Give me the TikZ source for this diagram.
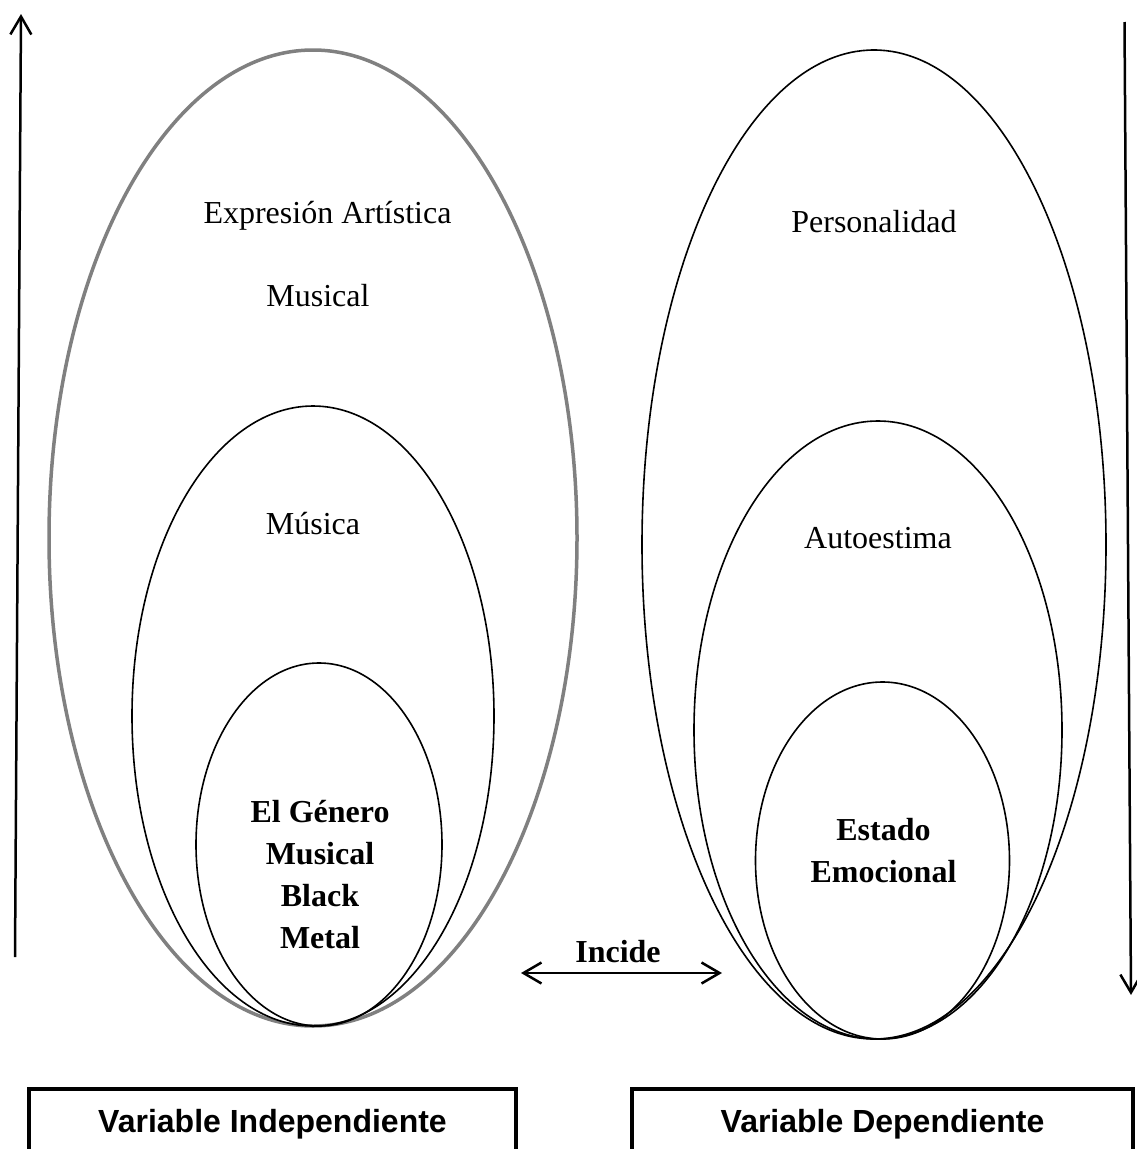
\documentclass[tikz,border=0pt]{standalone}
\usepackage{fontspec}
\setmainfont{Liberation Serif}
\newfontfamily\arialfont{Liberation Sans}
\usetikzlibrary{shapes.geometric,arrows.meta}
\begin{document}
\begin{tikzpicture}[x=1pt,y=-1pt,
  ell/.style={draw,ellipse,inner sep=0pt,line width=1.6pt},
  greyell/.style={ell,draw={rgb,255:red,128;green,128;blue,128},line width=3.5pt},
  lbl/.style={anchor=base,inner sep=0pt,font=\fontsize{32}{42}\selectfont},
  blbl/.style={anchor=base,inner sep=0pt,align=center,font=\fontsize{32}{42}\selectfont\bfseries},
  varbox/.style={draw,line width=4.5pt,minimum width=487pt,minimum height=70pt,inner sep=0pt,
     text height=23pt,text depth=7pt,font=\arialfont\bfseries\fontsize{32}{38}\selectfont},
  tip/.style={-{Straight Barb[length=18pt,width=21pt,line width=2.5pt]},line width=2.5pt},
  dtip/.style={{Straight Barb[length=18pt,width=21pt,line width=2.5pt]}-{Straight Barb[length=18pt,width=21pt,line width=2.5pt]},line width=2.5pt}
]
\useasboundingbox (0,0) rectangle (1137,1149);
\clip (0,0) rectangle (1137,1149);
\fill[white] (0,0) rectangle (1137,1149);

% left ellipses
\node[greyell,minimum width=528pt,minimum height=976pt] (lo) at (313,538) {};
\node[ell,minimum width=362pt,minimum height=620pt] (lm) at (313,716) {};
\node[ell,minimum width=246pt,minimum height=363pt] (li) at (319,844.5) {};

% right ellipses
\node[ell,minimum width=464pt,minimum height=989pt] (ro) at (874,544.5) {};
\node[ell,minimum width=368pt,minimum height=618pt] (rm) at (878,730) {};
\node[ell,minimum width=254pt,minimum height=357pt] (ri) at (882.5,860.5) {};

% labels
\node[lbl] (t1) at (327.5,223) {Expresión Artística};
\node[lbl] (t2) at (318,306) {Musical};
\node[lbl] (t3) at (313,534) {Música};
\node[blbl] (t4) at (320,948) {El Género\\Musical\\Black\\Metal};
\node[lbl] (t5) at (874,232) {Personalidad};
\node[lbl] (t6) at (878,548) {Autoestima};
\node[blbl] (t7) at (883.5,882) {Estado\\Emocional};

% vertical arrows
\coordinate (la0) at (15,957);
\coordinate (la1) at (21,14);
\draw[tip] (la0) -- (la1);
\coordinate (ra0) at (1124.5,22);
\coordinate (ra1) at (1131,995);
\draw[tip] (ra0) -- (ra1);

% incide
\coordinate (ia) at (521,973);
\coordinate (ib) at (722,973);
\draw[dtip] (ia) -- (ib);
\node[blbl] (inc) at (618,962) {Incide};

% boxes
\node[varbox] (vi) at (272.5,1124) {Variable Independiente};
\node[varbox,minimum width=501pt] (vd) at (882.5,1124) {Variable Dependiente};
\end{tikzpicture}
\end{document}
